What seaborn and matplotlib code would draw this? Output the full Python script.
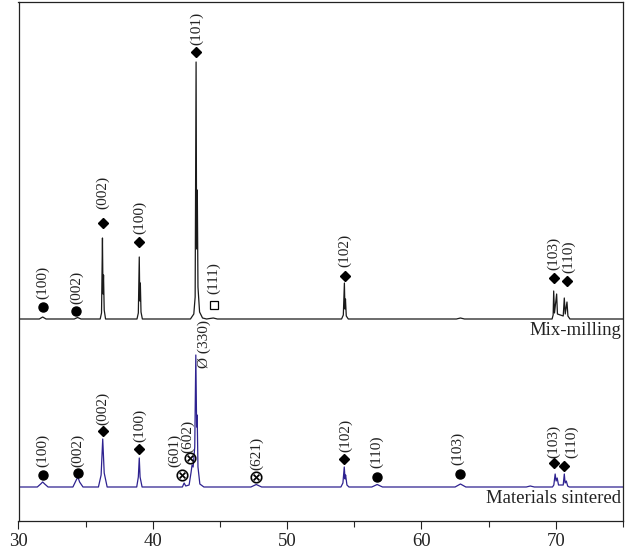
import numpy as np
import pandas as pd
import matplotlib
matplotlib.use("Agg")
import matplotlib.pyplot as plt
import seaborn as sns
from matplotlib.ticker import MultipleLocator

# 2-theta / intensity points (intensity above each trace's own baseline)
mix_x = [30.0, 31.55, 31.8, 32.05, 34.15, 34.4, 34.65,
         36.08, 36.18, 36.25, 36.29, 36.33, 36.38, 36.48,
         38.82, 38.92, 38.99, 39.03, 39.07, 39.12, 39.22,
         42.8, 43.05, 43.15, 43.22, 43.26, 43.31, 43.36, 43.48, 43.7, 44.0, 44.5, 44.8,
         54.05, 54.18, 54.26, 54.3, 54.34, 54.4, 54.55,
         62.6, 62.9, 63.2,
         69.72, 69.8, 69.84, 69.9, 70.06, 70.12, 70.55, 70.63, 70.7, 70.83, 70.9, 71.05, 75.0]
mix_y = [0, 0, 2, 0, 0, 1.5, 0,
         0, 6, 81, 25, 44, 9, 0,
         0, 6, 62, 18, 36, 7, 0,
         0, 5, 22, 257, 70, 129, 32, 7, 1, 0, 1, 0,
         0, 4, 36, 10, 20, 3, 0,
         0, 1, 0,
         0, 4, 28, 6, 25, 5, 3, 21, 5, 17, 3, 0, 0]

sint_x = [30.0, 31.4, 31.65, 31.8, 31.95, 32.2,
          34.05, 34.3, 34.42, 34.55, 34.8,
          35.95, 36.15, 36.27, 36.38, 36.6,
          38.8, 38.92, 38.99, 39.05, 39.2,
          42.2, 42.33, 42.45, 42.7, 42.85, 42.92, 43.0, 43.12, 43.2, 43.26, 43.3, 43.36, 43.5, 43.8,
          47.3, 47.7, 48.1,
          54.0, 54.15, 54.25, 54.31, 54.35, 54.45, 54.6,
          56.3, 56.7, 57.1,
          62.5, 62.9, 63.3,
          67.8, 68.1, 68.4,
          69.75, 69.85, 69.95, 70.02, 70.1, 70.2, 70.55, 70.63, 70.69, 70.78, 70.88, 71.0, 75.0]
sint_y = [0, 0, 3, 5, 3, 0,
          0, 7, 10, 5, 0,
          0, 12, 48, 14, 0,
          0, 10, 29, 10, 0,
          0, 4, 1, 2, 15, 22, 20, 40, 132, 60, 72, 20, 3, 0,
          0, 2.5, 0,
          0, 4, 20, 8, 12, 2, 0,
          0, 2.5, 0,
          0, 3, 0,
          0, 1, 0,
          0, 2, 13, 6, 9, 2, 2, 13, 4, 6, 1, 0, 0]

# peak annotations: marker x, marker y, label, label x, label y, marker kind
mix_peaks = [
    (31.8, 214, "(100)", 31.8, 222, "circle"),
    (34.3, 210, "(002)", 34.3, 217, "circle"),
    (36.3, 298, "(002)", 36.3, 312, "diamond"),
    (39.0, 279, "(100)", 39.0, 287, "diamond"),
    (43.25, 469, "(101)", 43.25, 476, "diamond"),
    (44.55, 216, "(111)", 44.55, 227, "square"),
    (54.3, 245, "(102)", 54.3, 254, "diamond"),
    (69.84, 243, "(103)", 69.84, 251, "diamond"),
    (70.83, 240, "(110)", 70.95, 248, "diamond"),
]
sint_peaks = [
    (31.8, 46, "(100)", 31.8, 54, "circle"),
    (34.4, 48, "(002)", 34.4, 54, "circle"),
    (36.3, 90, "(002)", 36.3, 96, "diamond"),
    (39.0, 72, "(100)", 39.0, 79, "diamond"),
    (42.16, 46, "(601)", 41.65, 54, "otimes"),
    (42.75, 63, "(602)", 42.6, 68, "otimes"),
    (None, None, "Ø (330)", 43.8, 153, None),
    (47.7, 44, "(621)", 47.7, 51, "otimes"),
    (54.25, 62, "(102)", 54.35, 69, "diamond"),
    (56.7, 44, "(110)", 56.65, 53, "circle"),
    (62.9, 47, "(103)", 62.7, 56, "circle"),
    (69.89, 58, "(103)", 69.8, 63, "diamond"),
    (70.63, 55, "(110)", 71.15, 63, "diamond"),
]

MIX_BASE = 202
SINT_BASE = 34
MIX_COLOR = "#1a1a1a"
SINT_COLOR = "#2e2290"

sns.set_theme(style="white")
plt.rcParams['font.family'] = ['Liberation Serif', 'DejaVu Sans']

fig = plt.figure(figsize=(6.26, 5.6), dpi=100)
ax = fig.add_axes([18.5 / 626, 39 / 560, 604.5 / 626, 519 / 560])

df_mix = pd.DataFrame({'theta': mix_x, 'I': np.array(mix_y) + MIX_BASE})
df_sint = pd.DataFrame({'theta': sint_x, 'I': np.array(sint_y) + SINT_BASE})
sns.lineplot(data=df_mix, x='theta', y='I', ax=ax, color=MIX_COLOR, lw=0.9,
             estimator=None, sort=False)
sns.lineplot(data=df_sint, x='theta', y='I', ax=ax, color=SINT_COLOR, lw=0.9,
             estimator=None, sort=False)

marker_style = {
    "circle": dict(marker='o', ms=6.5, mfc='black', mec='black'),
    "diamond": dict(marker='D', ms=5.5, mfc='black', mec='black'),
    "square": dict(marker='s', ms=5.5, mfc='white', mec='black', mew=0.9),
    "otimes": dict(marker=r'$\otimes$', ms=8.5, mfc='black', mec='black', mew=0.2),
}

for peaks in (mix_peaks, sint_peaks):
    for mx, my, lab, lx, ly, kind in peaks:
        if kind is not None:
            ax.plot([mx], [my], ls='none', **marker_style[kind])
        ax.text(lx, ly, lab, rotation=90, ha='center', va='bottom',
                fontsize=11, color='#222222')

ax.text(74.85, 199, "Mix-milling", ha='right', va='top', fontsize=13.5, color='#222222')
ax.text(74.85, 31, "Materials sintered", ha='right', va='top', fontsize=13.5, color='#222222')

ax.set_xlim(30, 75)
ax.set_ylim(0, 519)
ax.set_yticks([])
ax.set_xticks([30, 40, 50, 60, 70])
ax.xaxis.set_minor_locator(MultipleLocator(5))
ax.tick_params(axis='x', which='major', direction='out', length=6, width=0.8,
               labelsize=13.5, bottom=True, pad=3, colors='#222222')
ax.tick_params(axis='x', which='minor', direction='out', length=4, width=0.8, bottom=True)
ax.set_xlabel('')
ax.set_ylabel('')
for s in ax.spines.values():
    s.set_visible(True)
    s.set_color('#222222')
    s.set_linewidth(0.9)

fig.savefig("out.png", dpi=100)
